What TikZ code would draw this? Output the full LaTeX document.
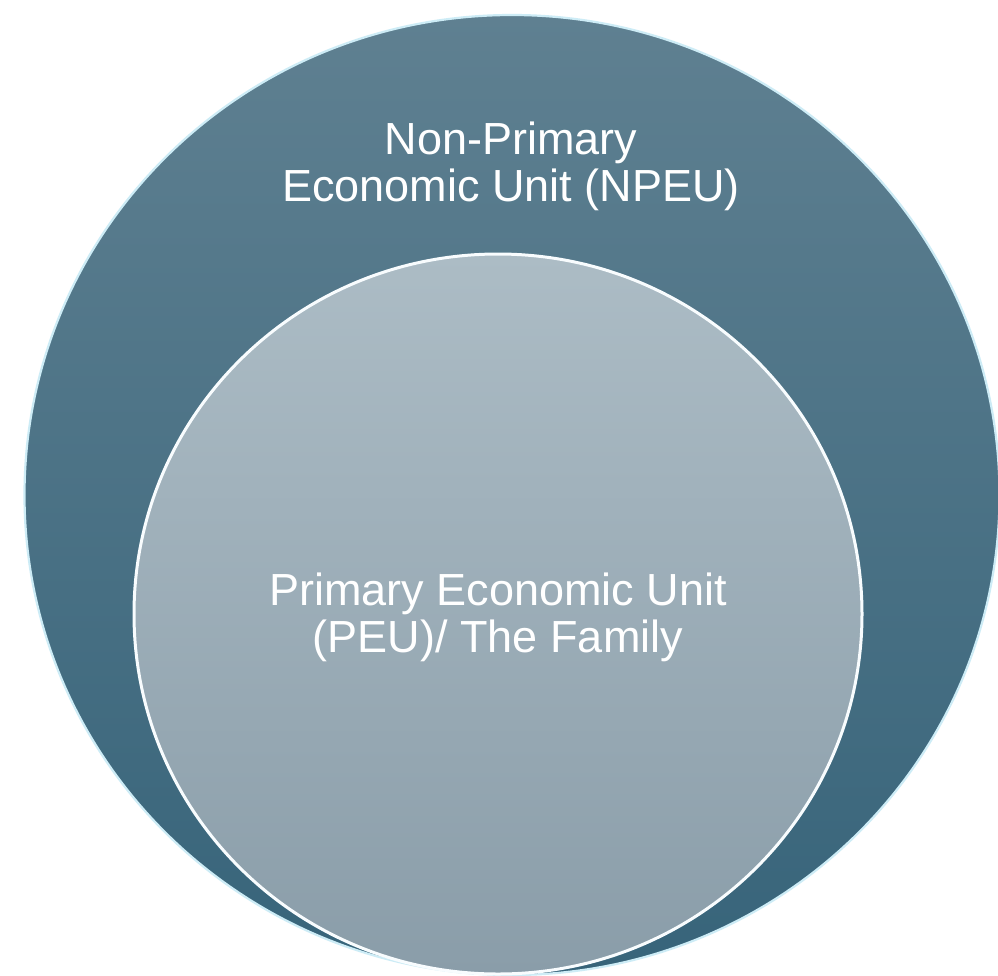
\documentclass[tikz,border=0pt]{standalone}
\usepackage{fontspec}
\setsansfont{Liberation Sans}
\usepackage{xcolor}
\usepackage{tikz}
\usetikzlibrary{shapes.geometric}
\definecolor{outertop}{RGB}{95,128,145}
\definecolor{outerbot}{RGB}{55,100,122}
\definecolor{innertop}{RGB}{172,188,197}
\definecolor{innerbot}{RGB}{138,157,169}
\definecolor{rimlight}{RGB}{205,236,246}
\tikzset{
  unit/.style={ellipse, inner sep=0pt, line width=2.2pt, draw=rimlight},
  outerunit/.style={unit, top color=outertop, bottom color=outerbot,
                    minimum width=975pt, minimum height=960pt},
  innerunit/.style={unit, draw=white!85!rimlight, line width=3pt,
                    top color=innertop, bottom color=innerbot,
                    minimum width=728pt, minimum height=720pt},
  unitlbl/.style={align=center, text=white, font=\sffamily\fontsize{45}{47}\selectfont},
}

\begin{document}
\begin{tikzpicture}[x=1pt, y=-1pt]
    \useasboundingbox[fill=white] (0,0) rectangle (998,975);

    \node[outerunit] (npeu) at (512,495) {};
    \node[innerunit] (peu) at (498,614) {};

    \node[unitlbl] (npeulbl) at (511,166) {Non-Primary\\Economic Unit (NPEU)};
    \node[unitlbl] (peulbl) at (498,617) {Primary Economic Unit\\(PEU)/ The Family};
\end{tikzpicture}
\end{document}
